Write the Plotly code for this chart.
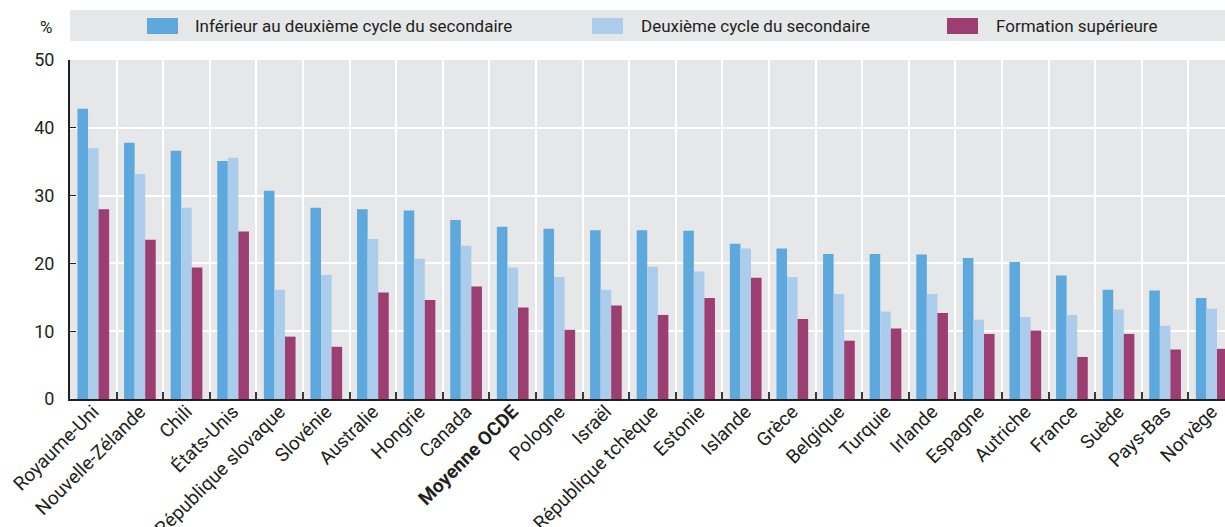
import plotly.graph_objects as go

countries = ["Royaume-Uni", "Nouvelle-Zélande", "Chili", "États-Unis", "République slovaque",
             "Slovénie", "Australie", "Hongrie", "Canada", "Moyenne OCDE", "Pologne", "Israël",
             "République tchèque", "Estonie", "Islande", "Grèce", "Belgique", "Turquie", "Irlande",
             "Espagne", "Autriche", "France", "Suède", "Pays-Bas", "Norvège"]

below_upper_secondary = [42.8, 37.8, 36.6, 35.1, 30.7, 28.2, 28.0, 27.8, 26.4, 25.4, 25.1, 24.9,
                         24.9, 24.8, 22.9, 22.2, 21.4, 21.4, 21.3, 20.8, 20.2, 18.2, 16.1, 16.0, 14.9]
upper_secondary = [37.0, 33.2, 28.2, 35.6, 16.1, 18.3, 23.6, 20.7, 22.6, 19.4, 18.0, 16.1,
                   19.5, 18.8, 22.2, 18.0, 15.5, 12.9, 15.5, 11.7, 12.1, 12.4, 13.2, 10.8, 13.3]
tertiary = [28.0, 23.5, 19.4, 24.7, 9.2, 7.7, 15.7, 14.6, 16.6, 13.5, 10.2, 13.8,
            12.4, 14.9, 17.9, 11.8, 8.6, 10.4, 12.7, 9.6, 10.1, 6.2, 9.6, 7.3, 7.4]

series_names = ["Inférieur au deuxième cycle du secondaire", "Deuxième cycle du secondaire",
                "Formation supérieure"]
colors = ["#5DA8DC", "#ABCDEB", "#9D3E72"]
y_ticks = [0, 10, 20, 30, 40, 50]

FONT = "Roboto, 'Liberation Sans Narrow', sans-serif"
TXT = "#231f20"

tick_text = [f"<b>{c}</b>" if c == "Moyenne OCDE" else c for c in countries]

fig = go.Figure()
for name, vals, col in zip(series_names, [below_upper_secondary, upper_secondary, tertiary], colors):
    fig.add_trace(go.Bar(x=countries, y=vals, name=name, marker=dict(color=col, line=dict(width=0)),
                         showlegend=False))

W, H = 1225, 527
ml, mr, mt, mb = 70, 0, 60, 128
pw, ph = W - ml - mr, H - mt - mb

def px_x(p):
    return (p - ml) / pw

def px_y(p):
    return (H - mb - p) / ph

shapes = [dict(type="rect", xref="paper", yref="paper", x0=px_x(70), x1=px_x(1225),
               y0=px_y(41), y1=px_y(10), fillcolor="#E6E7E9", line=dict(width=0), layer="below")]
annotations = [dict(text="%", xref="paper", yref="paper", x=px_x(46), y=px_y(27), showarrow=False,
                    xanchor="center", yanchor="middle", font=dict(size=17, color=TXT, family=FONT))]
sw_x = [147, 592, 947]
tx_x = [193, 639, 994]
for sx, tx, name, col in zip(sw_x, tx_x, series_names, colors):
    shapes.append(dict(type="rect", xref="paper", yref="paper", x0=px_x(sx), x1=px_x(sx + 31),
                       y0=px_y(34), y1=px_y(18), fillcolor=col, line=dict(width=0)))
    annotations.append(dict(text=name, xref="paper", yref="paper", x=px_x(tx), y=px_y(26),
                            showarrow=False, xanchor="left", yanchor="middle",
                            font=dict(size=17, color=TXT, family=FONT)))

fig.update_layout(
    width=W, height=H,
    margin=dict(l=ml, r=mr, t=mt, b=mb, pad=0, autoexpand=False),
    paper_bgcolor="white", plot_bgcolor="#E6E7E9",
    barmode="group", bargap=0.32, bargroupgap=0,
    font=dict(family=FONT, color=TXT, size=16),
    shapes=shapes, annotations=annotations,
    xaxis=dict(type="category", range=[-0.5, 24.285], tickson="boundaries", automargin=False,
               tickmode="array", tickvals=countries, ticktext=tick_text, tickangle=-45,
               ticks="inside", ticklen=7, tickcolor="#3a3a3a", tickwidth=1.5,
               ticklabelstandoff=-8,
               showgrid=True, gridcolor="white", gridwidth=2,
               showline=True, linecolor=TXT, linewidth=2,
               tickfont=dict(size=19, color=TXT, family=FONT)),
    yaxis=dict(range=[0, 50], tickvals=y_ticks, showgrid=True, gridcolor="white", gridwidth=2,
               automargin=False,
               zeroline=False, showline=True, linecolor=TXT, linewidth=2,
               ticks="inside", ticklen=6, tickcolor=TXT, ticklabelstandoff=10,
               tickfont=dict(size=18, color=TXT, family=FONT)),
)

fig.write_html("out.html", config={"displayModeBar": False},
               post_script="document.body.style.margin='0';document.body.style.overflow='hidden';")
